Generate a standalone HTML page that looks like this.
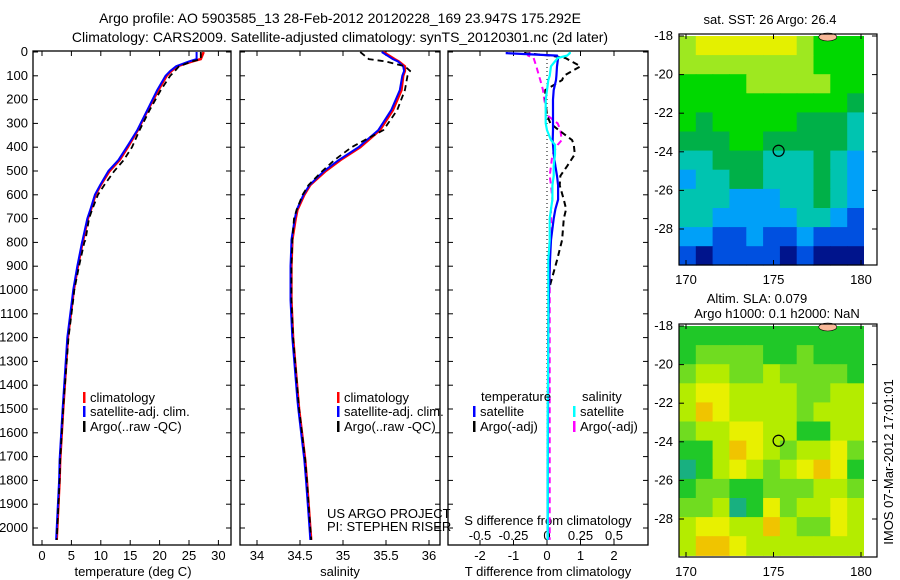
<!DOCTYPE html>
<html><head><meta charset="utf-8"><style>
body{margin:0;background:#fff;}
svg{display:block;font-family:"Liberation Sans",sans-serif;}
text{font-size:13px;fill:#000;}
</style></head><body>
<svg id="fig" width="900" height="580" viewBox="0 0 900 580">
<text x="340" y="23" text-anchor="middle" style="font-size:14px">Argo profile: AO 5903585_13 28-Feb-2012 20120228_169 23.947S 175.292E</text>
<text x="340" y="42" text-anchor="middle" style="font-size:14px">Climatology: CARS2009. Satellite-adjusted climatology: synTS_20120301.nc (2d later)</text>
<g id="g"></g>
</svg>
<script>
// ---- data ----
const depthT = [0,30,40,60,80,100,160,244,328,400,454,500,559,600,664,700,790,800,900,1000,1042,1200,1462,1500,1714,1800,2000,2050];
const tempClim = [27.5,27,25.5,23,22,21.2,19.8,18,16.3,14.6,13.2,11.5,10,9.1,8.3,7.8,7,6.9,6.1,5.4,5.2,4.4,3.7,3.6,3.1,3,2.6,2.5];
const tempSat  = [26.3,26.3,25,22.8,21.8,21,19.6,17.9,16.2,14.4,13,11.3,9.9,9,8.2,7.7,6.9,6.8,6,5.3,5.1,4.3,3.6,3.5,3,2.9,2.5,2.4];
const tempArgo = [27,27,25.5,23.3,22.6,21.8,20.2,18.3,16.6,15.3,13.9,12.3,10.6,9.5,8.5,8,7.4,7.2,6.3,5.5,5.3,4.5,3.7,3.6,3.1,3,2.6,2.5];
const salClim = [35.47,35.6,35.65,35.72,35.72,35.7,35.68,35.58,35.43,35.2,34.97,34.8,34.62,34.55,34.47,34.45,34.41,34.41,34.40,34.40,34.40,34.42,34.48,34.49,34.56,34.58,34.62,34.63];
const salSat  = [35.45,35.58,35.64,35.7,35.71,35.69,35.66,35.56,35.41,35.18,34.95,34.78,34.61,34.54,34.46,34.44,34.40,34.40,34.39,34.39,34.39,34.41,34.47,34.48,34.55,34.57,34.61,34.62];
const salArgo = [35.2,35.3,35.5,35.72,35.78,35.75,35.72,35.63,35.47,35.1,34.9,34.76,34.6,34.53,34.46,34.43,34.41,34.41,34.40,34.40,34.40,34.42,34.48,34.49,34.56,34.58,34.62,34.63];
const depthD = [0,5,15,25,60,100,118,160,200,265,300,328,370,390,430,480,520,560,620,660,700,790,875,1000,1200,1500,1800,2050];
const dTsat  = [-1.2,-1.2,0.3,0.33,0.3,0.28,0.27,0.2,0.18,0.18,0.18,0.18,0.17,0.18,0.2,0.25,0.3,0.33,0.33,0.25,0.2,0.12,0.09,0.06,0.04,0.03,0.02,0.02];
const dTargo = [-0.65,-0.65,0.1,0.55,1.0,0.5,0.45,-0.05,-0.05,0,0.1,0.35,0.75,0.8,0.83,0.6,0.4,0.38,0.5,0.57,0.5,0.45,0.3,0.05,0.03,0.03,0.02,0.02];
const dSsat  = [0.17,0.17,0.15,0.08,0.03,0.02,0.01,0,-0.01,-0.01,-0.01,0,0.03,0.06,0.06,0.05,0.05,0.04,0.04,0.03,0.02,0.02,0.01,0.01,0.01,0.005,0.005,0.005];
const dSargo = [-0.13,-0.13,-0.14,-0.1,-0.08,-0.06,-0.05,-0.03,-0.02,0,0.08,0.1,0.11,0.08,0.04,0.03,0.02,0.03,0.04,0.03,0.03,0.03,0.02,0.02,0.02,0.02,0.02,0.02];
const depthTicks = [0,100,200,300,400,500,600,700,800,900,1000,1100,1200,1300,1400,1500,1600,1700,1800,1900,2000];
const tempTicks = [0,5,10,15,20,25,30];
const salTicks = [34,34.5,35,35.5,36];
const tdTicks = [-2,-1,0,1,2];
const sdTicks = [-0.5,-0.25,0,0.25,0.5];
const sdTickLabels = ['-0.5','-0.25','0','0.25','0.5'];
const latTicks = [-18,-20,-22,-24,-26,-28];
const lonTicks = [170,175,180];
const sstGrid = [
[6,7,7,7,7,7,7,6,5,5,5],[6,6,6,6,6,6,6,6,5,5,5],[5,5,5,5,6,6,6,6,6,5,5],[5,5,5,5,5,5,5,5,5,5,4],
[5,4,5,5,5,5,5,4,4,4,3],[4,4,4,5,5,4,4,4,4,4,3],[3,3,4,4,4,3,3,3,4,3,2],[2,3,3,4,4,3,3,3,4,3,2],
[3,3,3,2,2,2,3,3,4,3,2],[3,3,2,2,2,2,2,3,3,2,1],[2,2,1,1,2,1,1,2,1,1,1],[1,0,1,1,1,1,0,1,0,0,0]];
const slaGrid = [
[1,1,1,1,1,1,1,1,1,1,1],[1,2,2,2,2,1,1,2,1,1,1],[2,3,3,2,2,3,2,2,2,2,1],[3,4,4,3,3,3,3,2,2,3,3],
[3,5,4,3,3,3,3,2,3,3,3],[2,3,3,4,4,3,3,1,1,3,3],[1,1,3,5,4,3,2,3,3,4,2],[0,1,3,4,3,2,3,4,5,4,1],
[1,2,2,1,1,2,2,2,3,3,2],[2,2,3,0,1,4,2,3,3,4,3],[3,4,4,3,3,5,3,2,2,4,3],[3,5,5,4,3,3,3,3,3,3,3]];
const floatLon = 175.292, floatLat = -23.947;

const NS='http://www.w3.org/2000/svg';
const G=document.getElementById('g');
function el(tag,attrs,parent){const e=document.createElementNS(NS,tag);for(const k in attrs)e.setAttribute(k,attrs[k]);(parent||G).appendChild(e);return e;}
function txt(x,y,s,anchor,parent){const t=el('text',{x:x,y:y,'text-anchor':anchor||'start'},parent);t.textContent=s;return t;}
const yD = d => 52 + d*0.238;
const xT = v => 42 + v*5.88;
const xS = v => 257 + (v-34)*86;
const xTd = v => 547 + v*33.5;
const xSd = v => 547 + v*134;

function panel(x0,x1,name){
  const r=el('rect',{x:x0,y:51,width:x1-x0,height:494,fill:'none',stroke:'#000','stroke-width':1.3});
  
  
  depthTicks.forEach(d=>{const y=yD(d);el('line',{x1:x0,x2:x0+5,y1:y,y2:y,stroke:'#000'});el('line',{x1:x1-5,x2:x1,y1:y,y2:y,stroke:'#000'});});
}
panel(33,231,'temperature-panel');
panel(240,440,'salinity-panel');
panel(448,648,'difference-panel');
depthTicks.forEach(d=>{const t=txt(28,yD(d)+4,String(d),'end');

});
function xticks(vals,fx,labels,ly){vals.forEach((v,i)=>{const x=fx(v);el('line',{x1:x,x2:x,y1:545,y2:540,stroke:'#000'});el('line',{x1:x,x2:x,y1:51,y2:56,stroke:'#000'});
const t=txt(x,ly,labels?labels[i]:String(v),'middle');

});}
xticks(tempTicks,xT,null,560);
xticks(salTicks,xS,null,560);
xticks(tdTicks,xTd,null,560);
sdTicks.forEach((v,i)=>{const t=txt(xSd(v),540,sdTickLabels[i],'middle');

});
let t;
t=txt(133,576,'temperature (deg C)','middle');
t=txt(340,576,'salinity','middle');
t=txt(548,576,'T difference from climatology','middle');
t=txt(548,525,'S difference from climatology','middle');
t=txt(327,518,'US ARGO PROJECT');
t=txt(327,531,'PI: STEPHEN RISER');
el('line',{x1:547,x2:547,y1:51,y2:545,stroke:'#000','stroke-dasharray':'1,3'});

function line(vals,depths,fx,color,dash,w,name){
  const pts=vals.map((v,i)=>fx(v).toFixed(1)+','+yD(depths[i]).toFixed(1)).join(' ');
  const p=el('polyline',{points:pts,fill:'none',stroke:color,'stroke-width':w||2,'stroke-dasharray':dash||'none'});
  
  
}
line(tempClim,depthT,xT,'#f00',null,2.5,'temp-climatology-line');
line(tempSat,depthT,xT,'#00f',null,2,'temp-satellite-line');
line(tempArgo,depthT,xT,'#000','6,4',1.8,'temp-argo-line');
line(salClim,depthT,xS,'#f00',null,2.5,'sal-climatology-line');
line(salSat,depthT,xS,'#00f',null,2,'sal-satellite-line');
line(salArgo,depthT,xS,'#000','6,4',1.8,'sal-argo-line');
line(dSargo,depthD,xSd,'#f0f','6,4',2,'s-diff-argo-line');
line(dTargo,depthD,xTd,'#000','6,4',2,'t-diff-argo-line');
line(dTsat,depthD,xTd,'#00f',null,2.2,'t-diff-satellite-line');
line(dSsat,depthD,xSd,'#0ff',null,2.2,'s-diff-satellite-line');

function leg(x,y,color,label,name){
  const g=el('g',{});
  
  
  el('rect',{x:x,y:y-10,width:2.5,height:11,fill:color},g);
  txt(x+7,y,label,'start',g);
}
leg(83,402,'#f00','climatology','legend-climatology');
leg(83,416,'#00f','satellite-adj. clim.','legend-satellite-adj');
leg(83,431,'#000','Argo(..raw -QC)','legend-argo');
leg(337,402,'#f00','climatology','legend-climatology-2');
leg(337,416,'#00f','satellite-adj. clim.','legend-satellite-adj-2');
leg(337,431,'#000','Argo(..raw -QC)','legend-argo-2');
t=txt(481,401,'temperature');
t=txt(582,401,'salinity');
leg(473,416,'#00f','satellite','legend-t-satellite');
leg(473,431,'#000','Argo(-adj)','legend-t-argo');
leg(573,416,'#0ff','satellite','legend-s-satellite');
leg(573,431,'#f0f','Argo(-adj)','legend-s-argo');

// maps
const lon0=169.6, dlon=(180.17-169.6)/11, dlat=0.99;
const xL = lon => 686 + (lon-170)*17.5;
function map(y0,grid,colors,name,boxTop,boxBot){
  const yLat = lat => y0 + (-18-lat)*19.3;
  const g=el('g',{});
  
  
  grid.forEach((row,r)=>row.forEach((v,c)=>{
    const x=xL(lon0+c*dlon), y=yLat(-18-r*dlat);
    const h=Math.min(yLat(-18-(r+1)*dlat),boxBot)-y;
    const cell=el('rect',{x:x.toFixed(1),y:y.toFixed(1),width:(dlon*17.5+0.6).toFixed(1),height:(h+0.6).toFixed(1),fill:colors[v]},g);
    
    
  }));
  el('ellipse',{cx:xL(178.1),cy:boxTop+3,rx:9,ry:4,fill:'#f8b898',stroke:'#000','stroke-width':0.6},g);
  el('rect',{x:864,y:boxTop,width:13,height:boxBot-boxTop,fill:'#fff'},g);
  el('rect',{x:679,y:boxTop,width:198,height:boxBot-boxTop,fill:'none',stroke:'#000','stroke-width':1.2},g);
  const c=el('circle',{cx:xL(floatLon),cy:yLat(floatLat),r:5.5,fill:'none',stroke:'#000','stroke-width':1.2},g);
  
  
  latTicks.forEach(l=>{const y=yLat(l);el('line',{x1:679,x2:684,y1:y,y2:y,stroke:'#000'},g);el('line',{x1:872,x2:877,y1:y,y2:y,stroke:'#000'},g);txt(673,y+4,String(l),'end',g);});
  lonTicks.forEach(l=>{const x=xL(l);el('line',{x1:x,x2:x,y1:boxBot,y2:boxBot-5,stroke:'#000'},g);el('line',{x1:x,x2:x,y1:boxTop,y2:boxTop+5,stroke:'#000'},g);txt(x,boxBot+19,String(l),'middle',g);});
}
map(36,sstGrid,['#00148c','#0050e0','#00a0f8','#00c4b0','#00b048','#00d800','#9ee820','#e4f000','#f0c000'],'sst-map',34,265);
map(326,slaGrid,['#18b080','#20c828','#70dc20','#b4ec00','#e8f000','#f0c400'],'sla-map',324,557);
t=txt(770,24,'sat. SST: 26 Argo: 26.4','middle');
t=txt(757,303,'Altim. SLA: 0.079','middle');
t=txt(777,318,'Argo h1000: 0.1 h2000: NaN','middle');
t=el('text',{x:0,y:0,'text-anchor':'middle',transform:'translate(893,462) rotate(-90)'});t.textContent='IMOS 07-Mar-2012 17:01:01';


</script>
</body></html>
